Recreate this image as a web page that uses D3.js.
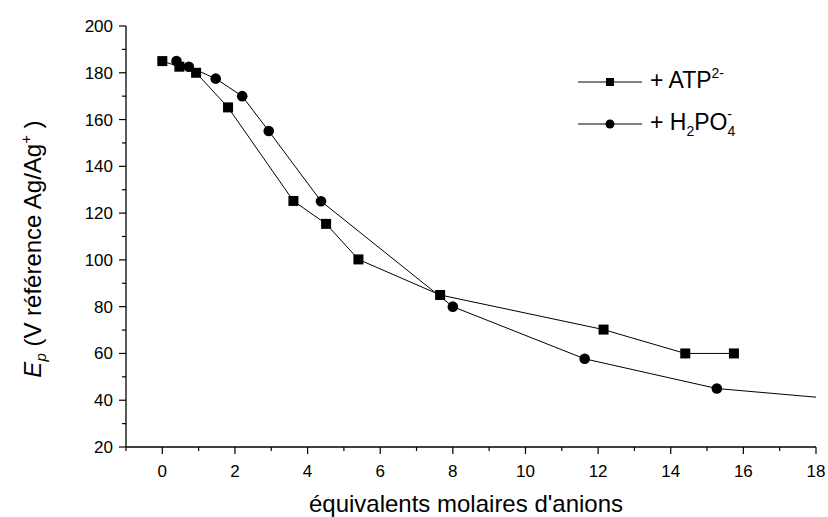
<!DOCTYPE html>
<html><head><meta charset="utf-8">
<script src="https://cdn.jsdelivr.net/npm/d3@7"></script>
<style>body{margin:0;background:#fff}svg{display:block}text{font-family:"Liberation Sans",Arial,sans-serif;fill:#000}</style>
</head><body><svg id="c" width="828" height="517"></svg>
<script>
const atpX = [0, 0.47, 0.93, 1.81, 3.61, 4.51, 5.4, 7.65, 12.15, 14.4, 15.74];
const atpY = [185, 182.6, 180, 165.2, 125.2, 115.4, 100.2, 85, 70.2, 60, 60];
const hpoX = [0.39, 0.73, 1.47, 2.2, 2.93, 4.37, 8.0, 11.63, 15.27];
const hpoY = [185, 182.6, 177.5, 170, 155.1, 125.1, 80, 57.7, 45];
const hpoTailX = [18.0];
const hpoTailY = [41.3];
const xTicks = [0, 2, 4, 6, 8, 10, 12, 14, 16, 18];
const yTicks = [20, 40, 60, 80, 100, 120, 140, 160, 180, 200];

const svg = d3.select("#c");
const L = 126, R = 816, T = 26, B = 447;
const x = d3.scaleLinear().domain([-1, 18]).range([L, R]);
const y = d3.scaleLinear().domain([20, 200]).range([B, T]);

// x axis
const xa = svg.append("g").attr("transform", `translate(0,${B})`);
xa.append("line").attr("x1", L).attr("x2", R).attr("stroke", "#000").attr("stroke-width", 1.3);
d3.range(-1, 19, 1).forEach(v => {
  const major = v % 2 === 0;
  xa.append("line").attr("x1", x(v)).attr("x2", x(v)).attr("y1", 0).attr("y2", major ? 7 : 4).attr("stroke", "#000").attr("stroke-width", 1.2);
});
xa.selectAll("text.t").data(xTicks).join("text").attr("class", "t")
  .attr("x", d => x(d)).attr("y", 30).attr("text-anchor", "middle").attr("font-size", 17).text(d => d);

// y axis
const ya = svg.append("g").attr("transform", `translate(${L},0)`);
ya.append("line").attr("y1", T).attr("y2", B).attr("stroke", "#000").attr("stroke-width", 1.3);
d3.range(20, 201, 10).forEach(v => {
  const major = v % 20 === 0;
  ya.append("line").attr("y1", y(v)).attr("y2", y(v)).attr("x1", 0).attr("x2", major ? -7 : -4).attr("stroke", "#000").attr("stroke-width", 1.2);
});
ya.selectAll("text.t").data(yTicks).join("text").attr("class", "t")
  .attr("x", -13).attr("y", d => y(d) + 6).attr("text-anchor", "end").attr("font-size", 17).text(d => d);

// titles
svg.append("text").attr("x", 466).attr("y", 512).attr("text-anchor", "middle").attr("font-size", 24)
  .text("équivalents molaires d'anions");
const yt = svg.append("text").attr("transform", "translate(41,249) rotate(-90)").attr("text-anchor", "middle").attr("font-size", 24);
yt.append("tspan").attr("font-style", "italic").text("E");
yt.append("tspan").attr("font-style", "italic").attr("font-size", 15).attr("dy", 5).text("p");
yt.append("tspan").attr("dy", -5).text(" (V référence Ag/Ag");
yt.append("tspan").attr("font-size", 15).attr("dy", -10).text("+");
yt.append("tspan").attr("dy", 10).text(" )");

// lines
const line = d3.line().x(d => x(d[0])).y(d => y(d[1]));
const atp = atpX.map((v, i) => [v, atpY[i]]);
const hpo = hpoX.map((v, i) => [v, hpoY[i]]);
const hpoLine = hpo.concat(hpoTailX.map((v, i) => [v, hpoTailY[i]]));
svg.append("path").attr("d", line(atp)).attr("fill", "none").attr("stroke", "#000").attr("stroke-width", 1);
svg.append("path").attr("d", line(hpoLine)).attr("fill", "none").attr("stroke", "#000").attr("stroke-width", 1);
svg.selectAll("rect.m").data(atp).join("rect").attr("class", "m")
  .attr("x", d => x(d[0]) - 5).attr("y", d => y(d[1]) - 5).attr("width", 10).attr("height", 10).attr("fill", "#000");
svg.selectAll("circle.m").data(hpo).join("circle").attr("class", "m")
  .attr("cx", d => x(d[0])).attr("cy", d => y(d[1])).attr("r", 5.3).attr("fill", "#000");

// legend
const lg = svg.append("g");
lg.append("line").attr("x1", 578).attr("x2", 642).attr("y1", 82).attr("y2", 82).attr("stroke", "#000");
lg.append("rect").attr("x", 606).attr("y", 78).attr("width", 8).attr("height", 8).attr("fill", "#000");
lg.append("line").attr("x1", 578).attr("x2", 642).attr("y1", 124).attr("y2", 124).attr("stroke", "#000");
lg.append("circle").attr("cx", 610).attr("cy", 124).attr("r", 4.5).attr("fill", "#000");
const t1 = lg.append("text").attr("x", 650).attr("y", 88).attr("font-size", 23);
t1.append("tspan").text("+ ATP");
t1.append("tspan").attr("font-size", 14).attr("dy", -10).text("2-");
const t2 = lg.append("text").attr("x", 650).attr("y", 130).attr("font-size", 23);
t2.append("tspan").text("+ H");
t2.append("tspan").attr("font-size", 14).attr("dy", 6).text("2");
t2.append("tspan").attr("dy", -6).text("PO");
t2.append("tspan").attr("font-size", 14).attr("dy", 6).text("4");
t2.append("tspan").attr("font-size", 14).attr("dy", -17).attr("dx", -8).text("-");
</script></body></html>
